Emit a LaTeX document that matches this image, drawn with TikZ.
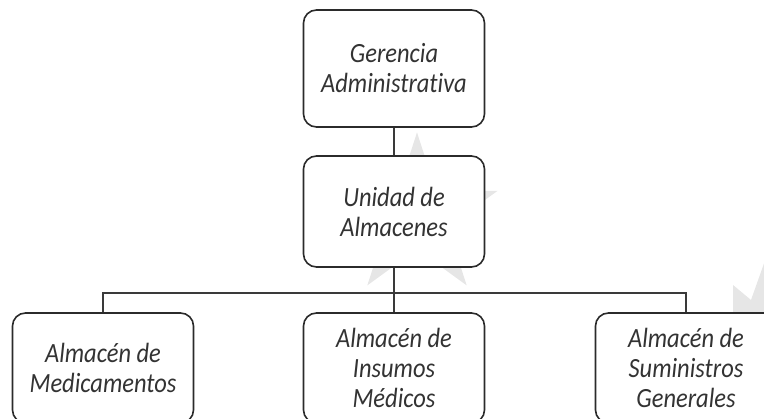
\documentclass[tikz,border=0pt]{standalone}
\usepackage{fontspec}
\setmainfont{Carlito}[Ligatures=NoCommon, FakeStretch=0.88]
\definecolor{boxc}{HTML}{2B2B2B}
\definecolor{linec}{HTML}{3A3A3A}
\definecolor{txtc}{HTML}{333333}
\definecolor{starc}{HTML}{E6E6E6}
\begin{document}
\begin{tikzpicture}[x=1pt,y=-1pt,
  box/.style={draw=boxc, line width=1.6pt, rounded corners=13pt, fill=white,
    minimum width=181pt, minimum height=110pt, align=center,
    font=\fontsize{27.8}{30}\selectfont\itshape, text=txtc, inner sep=0pt},
  link/.style={draw=linec, line width=1.3pt}]
\useasboundingbox (0,0) rectangle (764,419);
\clip (0,0) rectangle (764,419);
% watermark stars
\fill[starc] (417,132.4) -- (398,190.9) -- (336.5,190.9) -- (386.3,227) -- (367.3,285.4)
  -- (417,249.3) -- (466.7,285.4) -- (447.7,227) -- (497.5,190.9) -- (436,190.9) -- cycle;
\fill[starc] (733,285) -- (751,300) -- (767,255) -- (790,330) -- (733,330) -- cycle;
% nodes
\node[box, minimum height=117pt] (ga) at (394,68.5) {Gerencia\\Administrativa};
\node[box, minimum height=111pt] (ua) at (394,211.5) {Unidad de\\Almacenes};
\node[box] (am) at (103,368) {Almacén de\\Medicamentos};
\node[box] (ai) at (394,368) {Almacén de\\Insumos\\Médicos};
\node[box] (as) at (686,368) {Almacén de\\Suministros\\Generales};
% connectors
\coordinate (bus) at (394,293);
\draw[link] (ga.south) -- (ua.north);
\draw[link] (ua.south) -- (ai.north);
\draw[link] (am.north) |- (bus) -| (as.north);
\end{tikzpicture}
\end{document}
